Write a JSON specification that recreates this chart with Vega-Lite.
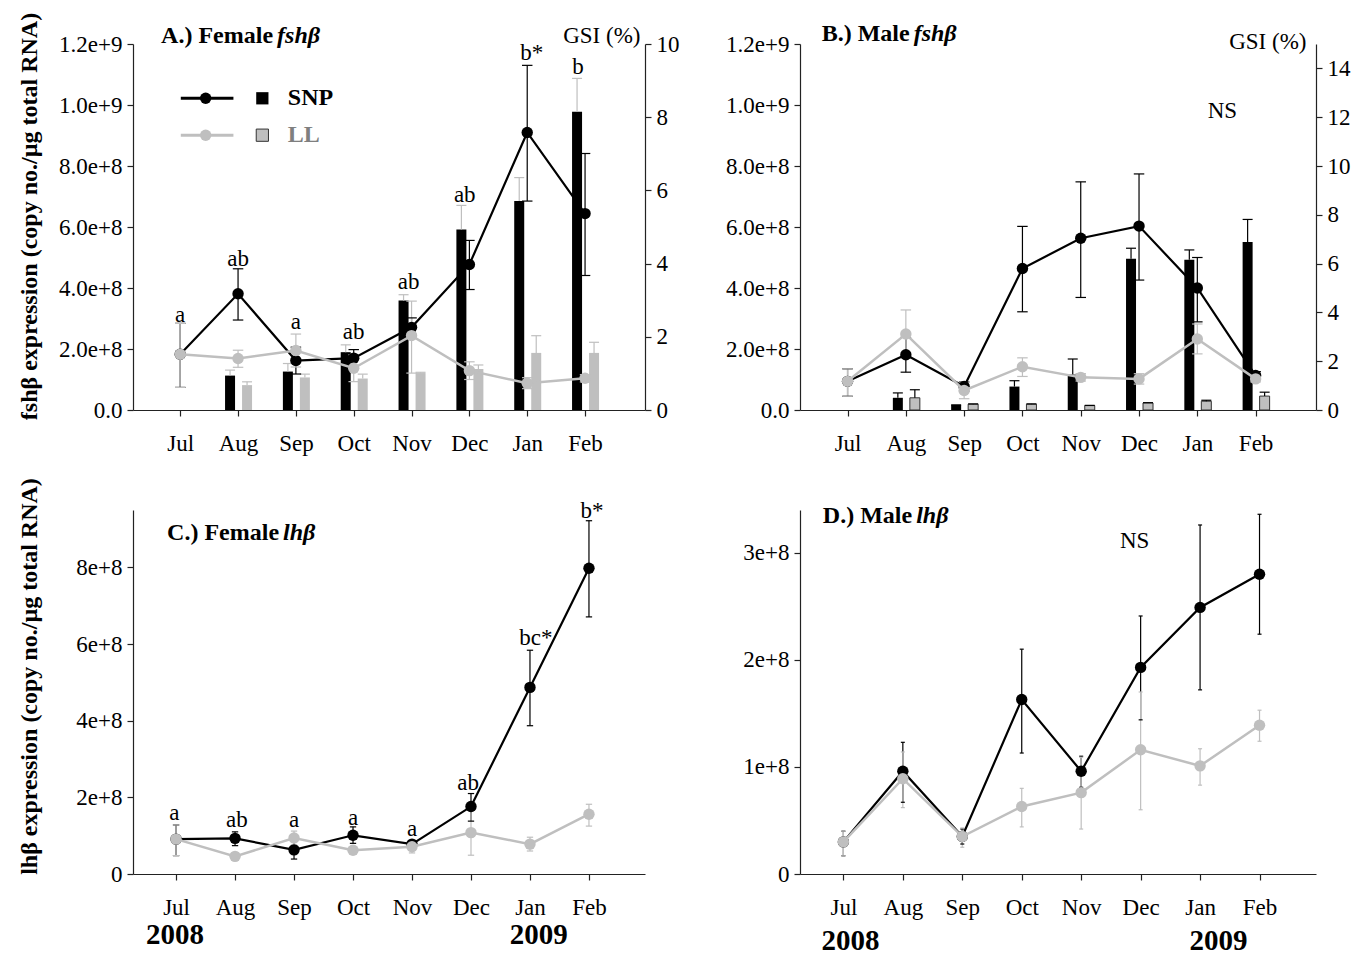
{
"$schema": "https://vega.github.io/schema/vega-lite/v6.json",
"background": "white",
"padding": {"left": 16, "top": 12, "right": 2, "bottom": 0},
"config": {
 "font": "Liberation Serif",
 "view": {"stroke": null},
 "axis": {"grid": false, "domainColor": "#222222", "tickColor": "#222222", "labelColor": "#000000", "titleColor": "#000000", "domainWidth": 1.2, "tickWidth": 1.2, "labelFont": "Liberation Serif", "titleFont": "Liberation Serif"},
 "text": {"font": "Liberation Serif", "color": "#000000"}
},
"datasets": {
 "expr": [
  {"p":"A","g":"SNP","m":1,"v":1.83e8,"lo":0.74e8,"hi":2.84e8},
  {"p":"A","g":"SNP","m":2,"v":3.81e8,"lo":2.95e8,"hi":4.63e8},
  {"p":"A","g":"SNP","m":3,"v":1.62e8,"lo":1.18e8,"hi":2.06e8},
  {"p":"A","g":"SNP","m":4,"v":1.70e8,"lo":1.42e8,"hi":1.98e8},
  {"p":"A","g":"SNP","m":5,"v":2.71e8,"lo":2.42e8,"hi":3.02e8},
  {"p":"A","g":"SNP","m":6,"v":4.77e8,"lo":3.95e8,"hi":5.56e8},
  {"p":"A","g":"SNP","m":7,"v":9.10e8,"lo":6.85e8,"hi":1.13e9},
  {"p":"A","g":"SNP","m":8,"v":6.44e8,"lo":4.41e8,"hi":8.41e8},
  {"p":"A","g":"LL","m":1,"v":1.83e8,"lo":0.74e8,"hi":2.84e8},
  {"p":"A","g":"LL","m":2,"v":1.69e8,"lo":1.40e8,"hi":1.96e8},
  {"p":"A","g":"LL","m":3,"v":1.95e8,"lo":1.41e8,"hi":2.49e8},
  {"p":"A","g":"LL","m":4,"v":1.37e8,"lo":0.93e8,"hi":1.81e8},
  {"p":"A","g":"LL","m":5,"v":2.44e8,"lo":1.21e8,"hi":3.57e8},
  {"p":"A","g":"LL","m":6,"v":1.29e8,"lo":1.00e8,"hi":1.58e8},
  {"p":"A","g":"LL","m":7,"v":0.88e8,"lo":0.70e8,"hi":1.06e8},
  {"p":"A","g":"LL","m":8,"v":1.04e8,"lo":0.92e8,"hi":1.16e8},
  {"p":"B","g":"SNP","m":1,"v":0.94e8,"lo":0.45e8,"hi":1.35e8},
  {"p":"B","g":"SNP","m":2,"v":1.81e8,"lo":1.24e8,"hi":2.38e8},
  {"p":"B","g":"SNP","m":3,"v":0.77e8,"lo":0.62e8,"hi":0.92e8},
  {"p":"B","g":"SNP","m":4,"v":4.64e8,"lo":3.22e8,"hi":6.02e8},
  {"p":"B","g":"SNP","m":5,"v":5.63e8,"lo":3.69e8,"hi":7.48e8},
  {"p":"B","g":"SNP","m":6,"v":6.03e8,"lo":4.26e8,"hi":7.74e8},
  {"p":"B","g":"SNP","m":7,"v":4.00e8,"lo":2.89e8,"hi":5.00e8},
  {"p":"B","g":"SNP","m":8,"v":1.13e8,"lo":1.00e8,"hi":1.26e8},
  {"p":"B","g":"LL","m":1,"v":0.94e8,"lo":0.45e8,"hi":1.35e8},
  {"p":"B","g":"LL","m":2,"v":2.49e8,"lo":1.70e8,"hi":3.28e8},
  {"p":"B","g":"LL","m":3,"v":0.64e8,"lo":0.37e8,"hi":0.91e8},
  {"p":"B","g":"LL","m":4,"v":1.42e8,"lo":1.10e8,"hi":1.71e8},
  {"p":"B","g":"LL","m":5,"v":1.07e8,"lo":0.95e8,"hi":1.19e8},
  {"p":"B","g":"LL","m":6,"v":1.02e8,"lo":0.85e8,"hi":1.19e8},
  {"p":"B","g":"LL","m":7,"v":2.33e8,"lo":1.84e8,"hi":2.82e8},
  {"p":"B","g":"LL","m":8,"v":1.02e8,"lo":0.92e8,"hi":1.12e8},
  {"p":"C","g":"SNP","m":1,"v":0.91e8,"lo":0.48e8,"hi":1.28e8},
  {"p":"C","g":"SNP","m":2,"v":0.93e8,"lo":0.74e8,"hi":1.10e8},
  {"p":"C","g":"SNP","m":3,"v":0.63e8,"lo":0.39e8,"hi":0.85e8},
  {"p":"C","g":"SNP","m":4,"v":1.01e8,"lo":0.80e8,"hi":1.23e8},
  {"p":"C","g":"SNP","m":5,"v":0.78e8,"lo":0.70e8,"hi":0.86e8},
  {"p":"C","g":"SNP","m":6,"v":1.76e8,"lo":1.38e8,"hi":2.10e8},
  {"p":"C","g":"SNP","m":7,"v":4.87e8,"lo":3.87e8,"hi":5.84e8},
  {"p":"C","g":"SNP","m":8,"v":7.98e8,"lo":6.71e8,"hi":9.22e8},
  {"p":"C","g":"LL","m":1,"v":0.91e8,"lo":0.48e8,"hi":1.28e8},
  {"p":"C","g":"LL","m":2,"v":0.46e8,"lo":0.40e8,"hi":0.52e8},
  {"p":"C","g":"LL","m":3,"v":0.94e8,"lo":0.76e8,"hi":1.12e8},
  {"p":"C","g":"LL","m":4,"v":0.62e8,"lo":0.52e8,"hi":0.72e8},
  {"p":"C","g":"LL","m":5,"v":0.71e8,"lo":0.55e8,"hi":0.87e8},
  {"p":"C","g":"LL","m":6,"v":1.08e8,"lo":0.49e8,"hi":1.67e8},
  {"p":"C","g":"LL","m":7,"v":0.78e8,"lo":0.60e8,"hi":0.96e8},
  {"p":"C","g":"LL","m":8,"v":1.56e8,"lo":1.25e8,"hi":1.82e8},
  {"p":"D","g":"SNP","m":1,"v":0.30e8,"lo":0.17e8,"hi":0.40e8},
  {"p":"D","g":"SNP","m":2,"v":0.96e8,"lo":0.67e8,"hi":1.23e8},
  {"p":"D","g":"SNP","m":3,"v":0.35e8,"lo":0.28e8,"hi":0.42e8},
  {"p":"D","g":"SNP","m":4,"v":1.63e8,"lo":1.13e8,"hi":2.10e8},
  {"p":"D","g":"SNP","m":5,"v":0.96e8,"lo":0.81e8,"hi":1.10e8},
  {"p":"D","g":"SNP","m":6,"v":1.93e8,"lo":1.44e8,"hi":2.41e8},
  {"p":"D","g":"SNP","m":7,"v":2.49e8,"lo":1.72e8,"hi":3.26e8},
  {"p":"D","g":"SNP","m":8,"v":2.80e8,"lo":2.24e8,"hi":3.36e8},
  {"p":"D","g":"LL","m":1,"v":0.30e8,"lo":0.17e8,"hi":0.40e8},
  {"p":"D","g":"LL","m":2,"v":0.89e8,"lo":0.62e8,"hi":1.14e8},
  {"p":"D","g":"LL","m":3,"v":0.35e8,"lo":0.25e8,"hi":0.43e8},
  {"p":"D","g":"LL","m":4,"v":0.63e8,"lo":0.44e8,"hi":0.80e8},
  {"p":"D","g":"LL","m":5,"v":0.76e8,"lo":0.42e8,"hi":1.09e8},
  {"p":"D","g":"LL","m":6,"v":1.16e8,"lo":0.60e8,"hi":1.70e8},
  {"p":"D","g":"LL","m":7,"v":1.01e8,"lo":0.83e8,"hi":1.17e8},
  {"p":"D","g":"LL","m":8,"v":1.39e8,"lo":1.24e8,"hi":1.53e8}
 ],
 "gsi": [
  {"p":"A","g":"SNP","m":2,"v":0.94,"hi":1.09},
  {"p":"A","g":"SNP","m":3,"v":1.05,"hi":1.27},
  {"p":"A","g":"SNP","m":4,"v":1.58,"hi":1.78},
  {"p":"A","g":"SNP","m":5,"v":2.99,"hi":3.15},
  {"p":"A","g":"SNP","m":6,"v":4.93,"hi":5.59},
  {"p":"A","g":"SNP","m":7,"v":5.71,"hi":6.35},
  {"p":"A","g":"SNP","m":8,"v":8.15,"hi":9.06},
  {"p":"A","g":"LL","m":2,"v":0.68,"hi":0.77},
  {"p":"A","g":"LL","m":3,"v":0.89,"hi":0.98},
  {"p":"A","g":"LL","m":4,"v":0.86,"hi":0.98},
  {"p":"A","g":"LL","m":5,"v":1.01,"hi":1.03},
  {"p":"A","g":"LL","m":6,"v":1.12,"hi":1.23},
  {"p":"A","g":"LL","m":7,"v":1.56,"hi":2.03},
  {"p":"A","g":"LL","m":8,"v":1.56,"hi":1.85},
  {"p":"B","g":"SNP","m":2,"v":0.50,"hi":0.70},
  {"p":"B","g":"SNP","m":3,"v":0.21,"hi":0.21},
  {"p":"B","g":"SNP","m":4,"v":0.96,"hi":1.20},
  {"p":"B","g":"SNP","m":5,"v":1.45,"hi":2.09},
  {"p":"B","g":"SNP","m":6,"v":6.20,"hi":6.63},
  {"p":"B","g":"SNP","m":7,"v":6.16,"hi":6.56},
  {"p":"B","g":"SNP","m":8,"v":6.89,"hi":7.81},
  {"p":"B","g":"LL","m":2,"v":0.50,"hi":0.83},
  {"p":"B","g":"LL","m":3,"v":0.24,"hi":0.25},
  {"p":"B","g":"LL","m":4,"v":0.24,"hi":0.25},
  {"p":"B","g":"LL","m":5,"v":0.18,"hi":0.19},
  {"p":"B","g":"LL","m":6,"v":0.29,"hi":0.30},
  {"p":"B","g":"LL","m":7,"v":0.36,"hi":0.40},
  {"p":"B","g":"LL","m":8,"v":0.57,"hi":0.73}
 ],
 "lab": [
  {"p":"A","m":1,"y":3.11e8,"t":"a"},
  {"p":"A","m":2,"y":4.95e8,"t":"ab"},
  {"p":"A","m":3,"y":2.88e8,"t":"a"},
  {"p":"A","m":4,"y":2.55e8,"t":"ab"},
  {"p":"A","m":4.95,"y":4.19e8,"t":"ab"},
  {"p":"A","m":5.92,"y":7.05e8,"t":"ab"},
  {"p":"A","m":7.08,"y":1.169e9,"t":"b*"},
  {"p":"A","m":7.88,"y":1.123e9,"t":"b"},
  {"p":"B","m":7.43,"y":9.79e8,"t":"NS"},
  {"p":"C","m":0.97,"y":1.60e8,"t":"a"},
  {"p":"C","m":2.03,"y":1.41e8,"t":"ab"},
  {"p":"C","m":3,"y":1.41e8,"t":"a"},
  {"p":"C","m":4,"y":1.47e8,"t":"a"},
  {"p":"C","m":5,"y":1.17e8,"t":"a"},
  {"p":"C","m":5.95,"y":2.38e8,"t":"ab"},
  {"p":"C","m":7.1,"y":6.15e8,"t":"bc*"},
  {"p":"C","m":8.05,"y":9.48e8,"t":"b*"},
  {"p":"D","m":5.9,"y":3.115e8,"t":"NS"}
 ],
 "ttl": [
  {"p":"A","m":2.64,"y":1.225e9,"a":"A.) Female","b":"fshβ"},
  {"p":"B","m":2.10,"y":1.234e9,"a":"B.) Male","b":"fshβ"},
  {"p":"C","m":2.78,"y":8.91e8,"a":"C.) Female","b":"lhβ"},
  {"p":"D","m":2.19,"y":3.34e8,"a":"D.) Male","b":"lhβ"}
 ],
 "yrs": [
  {"p":"C","m":0.98,"y":-1.6e8,"t":"2008"},
  {"p":"C","m":7.15,"y":-1.6e8,"t":"2009"},
  {"p":"D","m":1.12,"y":-0.63e8,"t":"2008"},
  {"p":"D","m":7.31,"y":-0.63e8,"t":"2009"}
 ],
 "leg": [
  {"k":"line","g":"SNP","m":1.01,"y":1.022e9},
  {"k":"line","g":"SNP","m":1.92,"y":1.022e9},
  {"k":"line","g":"LL","m":1.01,"y":9.01e8},
  {"k":"line","g":"LL","m":1.92,"y":9.01e8},
  {"k":"dot","g":"SNP","m":1.44,"y":1.022e9},
  {"k":"dot","g":"LL","m":1.44,"y":9.01e8},
  {"k":"sq","g":"SNP","m":2.42,"y":1.022e9},
  {"k":"sq","g":"LL","m":2.42,"y":9.01e8},
  {"k":"txt","g":"SNP","m":2.86,"y":1.022e9,"t":"SNP"},
  {"k":"txt","g":"LL","m":2.86,"y":9.01e8,"t":"LL"}
 ]
},
"columns": 2,
"bounds": "flush",
"spacing": {"row": 100, "column": 155},
"concat": [
 {
  "width": 512, "height": 366,
  "encoding": {"x": {"field":"m","type":"quantitative","scale":{"domain":[0.27,8.95],"nice":false,"zero":false},
    "axis":{"values":[1,2,3,4,5,6,7,8],"labelExpr":"['','Jul','Aug','Sep','Oct','Nov','Dec','Jan','Feb'][datum.value]","title":null,"tickSize":6,"labelPadding":16,"labelFontSize":23,"labelFlush":false,"labelOverlap":false,"labelBound":false}}},
  "layer": [
   {"layer": [
    {"data":{"name":"gsi"},"transform":[{"filter":"datum.p=='A'&&datum.g=='SNP'"}],
     "mark":{"type":"bar","width":10,"xOffset":-8,"color":"#000000"},
     "encoding":{"y":{"field":"v","type":"quantitative","scale":{"domain":[0,10],"nice":false},
       "axis":{"orient":"right","values":[0,2,4,6,8,10],"format":"d","title":"GSI (%)","titleAngle":0,"titleAlign":"right","titleBaseline":"middle","titleX":-5,"titleY":-9,"titleFontSize":23,"titleFontWeight":"normal","tickSize":6,"labelPadding":5,"labelFontSize":23,"labelFlush":false,"labelOverlap":false}}}},
    {"data":{"name":"gsi"},"transform":[{"filter":"datum.p=='A'&&datum.g=='LL'"}],
     "mark":{"type":"bar","width":10,"xOffset":9,"color":"#bfbfbf"},
     "encoding":{"y":{"field":"v","type":"quantitative"}}},
    {"data":{"name":"gsi"},"transform":[{"filter":"datum.p=='A'&&datum.g=='SNP'"}],
     "mark":{"type":"rule","xOffset":-8,"color":"#bfbfbf","strokeWidth":1.2},
     "encoding":{"y":{"field":"v","type":"quantitative"},"y2":{"field":"hi"}}},
    {"data":{"name":"gsi"},"transform":[{"filter":"datum.p=='A'&&datum.g=='SNP'"}],
     "mark":{"type":"point","shape":"M-1,0H1","size":100,"filled":false,"strokeWidth":1.2,"color":"#bfbfbf","opacity":1,"xOffset":-8},
     "encoding":{"y":{"field":"hi","type":"quantitative"}}},
    {"data":{"name":"gsi"},"transform":[{"filter":"datum.p=='A'&&datum.g=='LL'"}],
     "mark":{"type":"rule","xOffset":9,"color":"#bfbfbf","strokeWidth":1.2},
     "encoding":{"y":{"field":"v","type":"quantitative"},"y2":{"field":"hi"}}},
    {"data":{"name":"gsi"},"transform":[{"filter":"datum.p=='A'&&datum.g=='LL'"}],
     "mark":{"type":"point","shape":"M-1,0H1","size":100,"filled":false,"strokeWidth":1.2,"color":"#bfbfbf","opacity":1,"xOffset":9},
     "encoding":{"y":{"field":"hi","type":"quantitative"}}}
   ]},
   {"layer": [
    {"data":{"name":"expr"},"transform":[{"filter":"datum.p=='A'"}],
     "mark":{"type":"rule","strokeWidth":1.2},
     "encoding":{"y":{"field":"lo","type":"quantitative","scale":{"domain":[0,1.2e9],"nice":false},
       "axis":{"orient":"left","values":[0,2e8,4e8,6e8,8e8,1e9,1.2e9],"labelExpr":"datum.value==0?'0.0':format(datum.value,'.1e')","title":"fshβ expression (copy no./µg total RNA)","titleFontSize":24,"titleFontWeight":"bold","titleX":-104,"titleY":172,"titleAngle":270,"titleAlign":"center","titleBaseline":"middle","tickSize":6,"labelPadding":5,"labelFontSize":23,"labelFlush":false,"labelOverlap":false}},
      "y2":{"field":"hi"},
      "color":{"field":"g","type":"nominal","scale":{"domain":["SNP","LL"],"range":["#000000","#bfbfbf"]},"legend":null}}},
    {"data":{"name":"expr"},"transform":[{"filter":"datum.p=='A'"},{"fold":["lo","hi"],"as":["k","yy"]}],
     "mark":{"type":"point","shape":"M-1,0H1","size":110,"filled":false,"strokeWidth":1.2,"opacity":1},
     "encoding":{"y":{"field":"yy","type":"quantitative"},"color":{"field":"g","type":"nominal","legend":null}}},
    {"data":{"name":"expr"},"transform":[{"filter":"datum.p=='A'&&datum.g=='SNP'"}],
     "mark":{"type":"line","color":"#000000","strokeWidth":2.2},
     "encoding":{"y":{"field":"v","type":"quantitative"}}},
    {"data":{"name":"expr"},"transform":[{"filter":"datum.p=='A'&&datum.g=='SNP'"}],
     "mark":{"type":"point","filled":true,"color":"#000000","size":130,"opacity":1},
     "encoding":{"y":{"field":"v","type":"quantitative"}}},
    {"data":{"name":"expr"},"transform":[{"filter":"datum.p=='A'&&datum.g=='LL'"}],
     "mark":{"type":"line","color":"#bfbfbf","strokeWidth":2.5},
     "encoding":{"y":{"field":"v","type":"quantitative"}}},
    {"data":{"name":"expr"},"transform":[{"filter":"datum.p=='A'&&datum.g=='LL'"}],
     "mark":{"type":"point","filled":true,"color":"#bfbfbf","size":130,"opacity":1},
     "encoding":{"y":{"field":"v","type":"quantitative"}}},
    {"data":{"name":"lab"},"transform":[{"filter":"datum.p=='A'"}],
     "mark":{"type":"text","fontSize":23,"baseline":"middle","align":"center"},
     "encoding":{"y":{"field":"y","type":"quantitative"},"text":{"field":"t"}}},
    {"data":{"name":"ttl"},"transform":[{"filter":"datum.p=='A'"}],
     "mark":{"type":"text","fontSize":24,"fontWeight":"bold","baseline":"middle","align":"right","dx":-2},
     "encoding":{"y":{"field":"y","type":"quantitative"},"text":{"field":"a"}}},
    {"data":{"name":"ttl"},"transform":[{"filter":"datum.p=='A'"}],
     "mark":{"type":"text","fontSize":24,"fontWeight":"bold","fontStyle":"italic","baseline":"middle","align":"left","dx":2},
     "encoding":{"y":{"field":"y","type":"quantitative"},"text":{"field":"b"}}},
    {"data":{"name":"leg"},"transform":[{"filter":"datum.k=='line'&&datum.g=='SNP'"}],
     "mark":{"type":"line","color":"#000000","strokeWidth":3},
     "encoding":{"y":{"field":"y","type":"quantitative"}}},
    {"data":{"name":"leg"},"transform":[{"filter":"datum.k=='line'&&datum.g=='LL'"}],
     "mark":{"type":"line","color":"#bfbfbf","strokeWidth":3},
     "encoding":{"y":{"field":"y","type":"quantitative"}}},
    {"data":{"name":"leg"},"transform":[{"filter":"datum.k=='dot'&&datum.g=='SNP'"}],
     "mark":{"type":"point","filled":true,"color":"#000000","size":130,"opacity":1},
     "encoding":{"y":{"field":"y","type":"quantitative"}}},
    {"data":{"name":"leg"},"transform":[{"filter":"datum.k=='dot'&&datum.g=='LL'"}],
     "mark":{"type":"point","filled":true,"color":"#bfbfbf","size":130,"opacity":1},
     "encoding":{"y":{"field":"y","type":"quantitative"}}},
    {"data":{"name":"leg"},"transform":[{"filter":"datum.k=='sq'&&datum.g=='SNP'"}],
     "mark":{"type":"point","shape":"square","filled":true,"color":"#000000","size":150,"opacity":1},
     "encoding":{"y":{"field":"y","type":"quantitative"}}},
    {"data":{"name":"leg"},"transform":[{"filter":"datum.k=='sq'&&datum.g=='LL'"}],
     "mark":{"type":"point","shape":"square","filled":true,"fill":"#bfbfbf","stroke":"#333333","strokeWidth":1,"size":150,"opacity":1},
     "encoding":{"y":{"field":"y","type":"quantitative"}}},
    {"data":{"name":"leg"},"transform":[{"filter":"datum.k=='txt'&&datum.g=='SNP'"}],
     "mark":{"type":"text","fontSize":24,"fontWeight":"bold","baseline":"middle","align":"left","color":"#000000"},
     "encoding":{"y":{"field":"y","type":"quantitative"},"text":{"field":"t"}}},
    {"data":{"name":"leg"},"transform":[{"filter":"datum.k=='txt'&&datum.g=='LL'"}],
     "mark":{"type":"text","fontSize":24,"fontWeight":"bold","baseline":"middle","align":"left","color":"#7f7f7f"},
     "encoding":{"y":{"field":"y","type":"quantitative"},"text":{"field":"t"}}}
   ]}
  ],
  "resolve": {"scale": {"y": "independent"}}
 },
 {
  "width": 516, "height": 366,
  "encoding": {"x": {"field":"m","type":"quantitative","scale":{"domain":[0.27,8.95],"nice":false,"zero":false},
    "axis":{"values":[1,2,3,4,5,6,7,8],"labelExpr":"['','Jul','Aug','Sep','Oct','Nov','Dec','Jan','Feb'][datum.value]","title":null,"tickSize":6,"labelPadding":16,"labelFontSize":23,"labelFlush":false,"labelOverlap":false,"labelBound":false}}},
  "layer": [
   {"layer": [
    {"data":{"name":"gsi"},"transform":[{"filter":"datum.p=='B'&&datum.g=='SNP'"}],
     "mark":{"type":"bar","width":10,"xOffset":-8,"color":"#000000"},
     "encoding":{"y":{"field":"v","type":"quantitative","scale":{"domain":[0,15],"nice":false},
       "axis":{"orient":"right","values":[0,2,4,6,8,10,12,14],"format":"d","title":"GSI (%)","titleAngle":0,"titleAlign":"right","titleBaseline":"middle","titleX":-10,"titleY":-3,"titleFontSize":23,"titleFontWeight":"normal","tickSize":6,"labelPadding":5,"labelFontSize":23,"labelFlush":false,"labelOverlap":false}}}},
    {"data":{"name":"gsi"},"transform":[{"filter":"datum.p=='B'&&datum.g=='LL'"}],
     "mark":{"type":"bar","width":10,"xOffset":9,"fill":"#bfbfbf","stroke":"#333333","strokeWidth":1},
     "encoding":{"y":{"field":"v","type":"quantitative"}}},
    {"data":{"name":"gsi"},"transform":[{"filter":"datum.p=='B'&&datum.g=='SNP'"}],
     "mark":{"type":"rule","xOffset":-8,"color":"#000000","strokeWidth":1.2},
     "encoding":{"y":{"field":"v","type":"quantitative"},"y2":{"field":"hi"}}},
    {"data":{"name":"gsi"},"transform":[{"filter":"datum.p=='B'&&datum.g=='SNP'"}],
     "mark":{"type":"point","shape":"M-1,0H1","size":100,"filled":false,"strokeWidth":1.2,"color":"#000000","opacity":1,"xOffset":-8},
     "encoding":{"y":{"field":"hi","type":"quantitative"}}},
    {"data":{"name":"gsi"},"transform":[{"filter":"datum.p=='B'&&datum.g=='LL'"}],
     "mark":{"type":"rule","xOffset":9,"color":"#000000","strokeWidth":1.2},
     "encoding":{"y":{"field":"v","type":"quantitative"},"y2":{"field":"hi"}}},
    {"data":{"name":"gsi"},"transform":[{"filter":"datum.p=='B'&&datum.g=='LL'"}],
     "mark":{"type":"point","shape":"M-1,0H1","size":100,"filled":false,"strokeWidth":1.2,"color":"#000000","opacity":1,"xOffset":9},
     "encoding":{"y":{"field":"hi","type":"quantitative"}}}
   ]},
   {"layer": [
    {"data":{"name":"expr"},"transform":[{"filter":"datum.p=='B'"}],
     "mark":{"type":"rule","strokeWidth":1.2},
     "encoding":{"y":{"field":"lo","type":"quantitative","scale":{"domain":[0,1.2e9],"nice":false},
       "axis":{"orient":"left","values":[0,2e8,4e8,6e8,8e8,1e9,1.2e9],"labelExpr":"datum.value==0?'0.0':format(datum.value,'.1e')","title":null,"tickSize":6,"labelPadding":5,"labelFontSize":23,"labelFlush":false,"labelOverlap":false}},
      "y2":{"field":"hi"},
      "color":{"field":"g","type":"nominal","scale":{"domain":["SNP","LL"],"range":["#000000","#bfbfbf"]},"legend":null}}},
    {"data":{"name":"expr"},"transform":[{"filter":"datum.p=='B'"},{"fold":["lo","hi"],"as":["k","yy"]}],
     "mark":{"type":"point","shape":"M-1,0H1","size":110,"filled":false,"strokeWidth":1.2,"opacity":1},
     "encoding":{"y":{"field":"yy","type":"quantitative"},"color":{"field":"g","type":"nominal","legend":null}}},
    {"data":{"name":"expr"},"transform":[{"filter":"datum.p=='B'&&datum.g=='SNP'"}],
     "mark":{"type":"line","color":"#000000","strokeWidth":2.2},
     "encoding":{"y":{"field":"v","type":"quantitative"}}},
    {"data":{"name":"expr"},"transform":[{"filter":"datum.p=='B'&&datum.g=='SNP'"}],
     "mark":{"type":"point","filled":true,"color":"#000000","size":130,"opacity":1},
     "encoding":{"y":{"field":"v","type":"quantitative"}}},
    {"data":{"name":"expr"},"transform":[{"filter":"datum.p=='B'&&datum.g=='LL'"}],
     "mark":{"type":"line","color":"#bfbfbf","strokeWidth":2.5},
     "encoding":{"y":{"field":"v","type":"quantitative"}}},
    {"data":{"name":"expr"},"transform":[{"filter":"datum.p=='B'&&datum.g=='LL'"}],
     "mark":{"type":"point","filled":true,"color":"#bfbfbf","size":130,"opacity":1},
     "encoding":{"y":{"field":"v","type":"quantitative"}}},
    {"data":{"name":"lab"},"transform":[{"filter":"datum.p=='B'"}],
     "mark":{"type":"text","fontSize":23,"baseline":"middle","align":"center"},
     "encoding":{"y":{"field":"y","type":"quantitative"},"text":{"field":"t"}}},
    {"data":{"name":"ttl"},"transform":[{"filter":"datum.p=='B'"}],
     "mark":{"type":"text","fontSize":24,"fontWeight":"bold","baseline":"middle","align":"right","dx":-2},
     "encoding":{"y":{"field":"y","type":"quantitative"},"text":{"field":"a"}}},
    {"data":{"name":"ttl"},"transform":[{"filter":"datum.p=='B'"}],
     "mark":{"type":"text","fontSize":24,"fontWeight":"bold","fontStyle":"italic","baseline":"middle","align":"left","dx":2},
     "encoding":{"y":{"field":"y","type":"quantitative"},"text":{"field":"b"}}}
   ]}
  ],
  "resolve": {"scale": {"y": "independent"}}
 },
 {
  "width": 512, "height": 364,
  "encoding": {"x": {"field":"m","type":"quantitative","scale":{"domain":[0.27,8.95],"nice":false,"zero":false},
    "axis":{"values":[1,2,3,4,5,6,7,8],"labelExpr":"['','Jul','Aug','Sep','Oct','Nov','Dec','Jan','Feb'][datum.value]","title":null,"tickSize":6,"labelPadding":16,"labelFontSize":23,"labelFlush":false,"labelOverlap":false,"labelBound":false}}},
  "layer": [
    {"data":{"name":"expr"},"transform":[{"filter":"datum.p=='C'"}],
     "mark":{"type":"rule","strokeWidth":1.2},
     "encoding":{"y":{"field":"lo","type":"quantitative","scale":{"domain":[0,9.5e8],"nice":false},
       "axis":{"orient":"left","values":[0,2e8,4e8,6e8,8e8],"labelExpr":"datum.value==0?'0':format(datum.value,'.0e')","title":"lhβ expression (copy no./µg total RNA)","titleFontSize":24,"titleFontWeight":"bold","titleX":-104,"titleY":166,"titleAngle":270,"titleAlign":"center","titleBaseline":"middle","tickSize":6,"labelPadding":5,"labelFontSize":23,"labelFlush":false,"labelOverlap":false}},
      "y2":{"field":"hi"},
      "color":{"field":"g","type":"nominal","scale":{"domain":["SNP","LL"],"range":["#000000","#bfbfbf"]},"legend":null}}},
    {"data":{"name":"expr"},"transform":[{"filter":"datum.p=='C'"},{"fold":["lo","hi"],"as":["k","yy"]}],
     "mark":{"type":"point","shape":"M-1,0H1","size":40,"filled":false,"strokeWidth":1.2,"opacity":1},
     "encoding":{"y":{"field":"yy","type":"quantitative"},"color":{"field":"g","type":"nominal","legend":null}}},
    {"data":{"name":"expr"},"transform":[{"filter":"datum.p=='C'&&datum.g=='SNP'"}],
     "mark":{"type":"line","color":"#000000","strokeWidth":2.2},
     "encoding":{"y":{"field":"v","type":"quantitative"}}},
    {"data":{"name":"expr"},"transform":[{"filter":"datum.p=='C'&&datum.g=='SNP'"}],
     "mark":{"type":"point","filled":true,"color":"#000000","size":130,"opacity":1},
     "encoding":{"y":{"field":"v","type":"quantitative"}}},
    {"data":{"name":"expr"},"transform":[{"filter":"datum.p=='C'&&datum.g=='LL'"}],
     "mark":{"type":"line","color":"#bfbfbf","strokeWidth":2.5},
     "encoding":{"y":{"field":"v","type":"quantitative"}}},
    {"data":{"name":"expr"},"transform":[{"filter":"datum.p=='C'&&datum.g=='LL'"}],
     "mark":{"type":"point","filled":true,"color":"#bfbfbf","size":130,"opacity":1},
     "encoding":{"y":{"field":"v","type":"quantitative"}}},
    {"data":{"name":"lab"},"transform":[{"filter":"datum.p=='C'"}],
     "mark":{"type":"text","fontSize":23,"baseline":"middle","align":"center"},
     "encoding":{"y":{"field":"y","type":"quantitative"},"text":{"field":"t"}}},
    {"data":{"name":"ttl"},"transform":[{"filter":"datum.p=='C'"}],
     "mark":{"type":"text","fontSize":24,"fontWeight":"bold","baseline":"middle","align":"right","dx":-2},
     "encoding":{"y":{"field":"y","type":"quantitative"},"text":{"field":"a"}}},
    {"data":{"name":"ttl"},"transform":[{"filter":"datum.p=='C'"}],
     "mark":{"type":"text","fontSize":24,"fontWeight":"bold","fontStyle":"italic","baseline":"middle","align":"left","dx":2},
     "encoding":{"y":{"field":"y","type":"quantitative"},"text":{"field":"b"}}},
    {"data":{"name":"yrs"},"transform":[{"filter":"datum.p=='C'"}],
     "mark":{"type":"text","fontSize":29,"fontWeight":"bold","baseline":"middle","align":"center"},
     "encoding":{"y":{"field":"y","type":"quantitative"},"text":{"field":"t"}}}
  ]
 },
 {
  "width": 516, "height": 364,
  "encoding": {"x": {"field":"m","type":"quantitative","scale":{"domain":[0.27,8.95],"nice":false,"zero":false},
    "axis":{"values":[1,2,3,4,5,6,7,8],"labelExpr":"['','Jul','Aug','Sep','Oct','Nov','Dec','Jan','Feb'][datum.value]","title":null,"tickSize":6,"labelPadding":16,"labelFontSize":23,"labelFlush":false,"labelOverlap":false,"labelBound":false}}},
  "layer": [
    {"data":{"name":"expr"},"transform":[{"filter":"datum.p=='D'"}],
     "mark":{"type":"rule","strokeWidth":1.2},
     "encoding":{"y":{"field":"lo","type":"quantitative","scale":{"domain":[0,3.4e8],"nice":false},
       "axis":{"orient":"left","values":[0,1e8,2e8,3e8],"labelExpr":"datum.value==0?'0':format(datum.value,'.0e')","title":null,"tickSize":6,"labelPadding":5,"labelFontSize":23,"labelFlush":false,"labelOverlap":false}},
      "y2":{"field":"hi"},
      "color":{"field":"g","type":"nominal","scale":{"domain":["SNP","LL"],"range":["#000000","#bfbfbf"]},"legend":null}}},
    {"data":{"name":"expr"},"transform":[{"filter":"datum.p=='D'"},{"fold":["lo","hi"],"as":["k","yy"]}],
     "mark":{"type":"point","shape":"M-1,0H1","size":16,"filled":false,"strokeWidth":1.2,"opacity":1},
     "encoding":{"y":{"field":"yy","type":"quantitative"},"color":{"field":"g","type":"nominal","legend":null}}},
    {"data":{"name":"expr"},"transform":[{"filter":"datum.p=='D'&&datum.g=='SNP'"}],
     "mark":{"type":"line","color":"#000000","strokeWidth":2.2},
     "encoding":{"y":{"field":"v","type":"quantitative"}}},
    {"data":{"name":"expr"},"transform":[{"filter":"datum.p=='D'&&datum.g=='SNP'"}],
     "mark":{"type":"point","filled":true,"color":"#000000","size":130,"opacity":1},
     "encoding":{"y":{"field":"v","type":"quantitative"}}},
    {"data":{"name":"expr"},"transform":[{"filter":"datum.p=='D'&&datum.g=='LL'"}],
     "mark":{"type":"line","color":"#bfbfbf","strokeWidth":2.5},
     "encoding":{"y":{"field":"v","type":"quantitative"}}},
    {"data":{"name":"expr"},"transform":[{"filter":"datum.p=='D'&&datum.g=='LL'"}],
     "mark":{"type":"point","filled":true,"color":"#bfbfbf","size":130,"opacity":1},
     "encoding":{"y":{"field":"v","type":"quantitative"}}},
    {"data":{"name":"lab"},"transform":[{"filter":"datum.p=='D'"}],
     "mark":{"type":"text","fontSize":23,"baseline":"middle","align":"center"},
     "encoding":{"y":{"field":"y","type":"quantitative"},"text":{"field":"t"}}},
    {"data":{"name":"ttl"},"transform":[{"filter":"datum.p=='D'"}],
     "mark":{"type":"text","fontSize":24,"fontWeight":"bold","baseline":"middle","align":"right","dx":-2},
     "encoding":{"y":{"field":"y","type":"quantitative"},"text":{"field":"a"}}},
    {"data":{"name":"ttl"},"transform":[{"filter":"datum.p=='D'"}],
     "mark":{"type":"text","fontSize":24,"fontWeight":"bold","fontStyle":"italic","baseline":"middle","align":"left","dx":2},
     "encoding":{"y":{"field":"y","type":"quantitative"},"text":{"field":"b"}}},
    {"data":{"name":"yrs"},"transform":[{"filter":"datum.p=='D'"}],
     "mark":{"type":"text","fontSize":29,"fontWeight":"bold","baseline":"middle","align":"center"},
     "encoding":{"y":{"field":"y","type":"quantitative"},"text":{"field":"t"}}}
  ]
 }
]
}
